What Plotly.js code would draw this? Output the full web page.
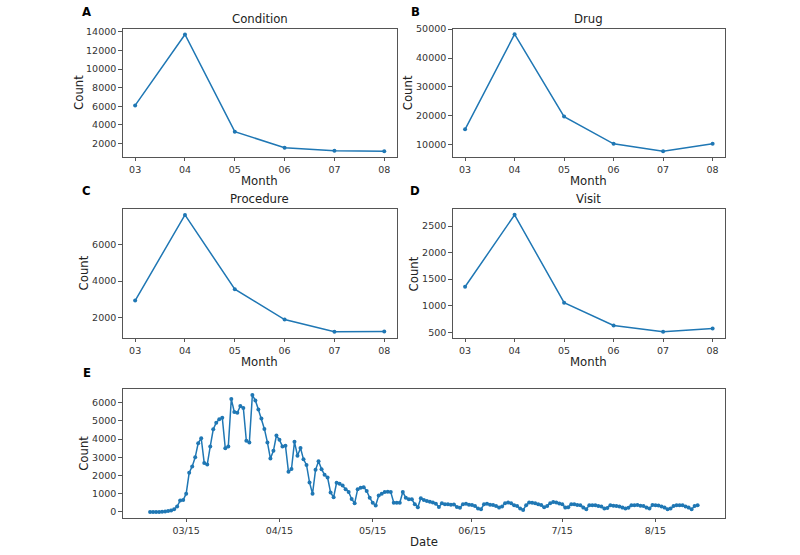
<!DOCTYPE html>
<html>
<head>
<meta charset="utf-8">
<script src="https://cdn.plot.ly/plotly-3.0.1.min.js"></script>
<style>html,body{margin:0;padding:0;background:#fff;}#chart{width:800px;height:555px;}</style>
</head>
<body>
<div id="chart"></div>
<script>
// ---- data ----
const months = ['03', '04', '05', '06', '07', '08'];
const conditionCounts = [6100, 13700, 3280, 1570, 1250, 1190];
const drugCounts = [15300, 48250, 19700, 10250, 7700, 10250];
const procedureCounts = [2940, 7610, 3560, 1910, 1240, 1260];
const visitCounts = [1356, 2712, 1056, 625, 506, 569];

const dailyCounts = [
  0, 0, 0, 0, 10, 20, 45, 70, 140, 300, 620, 650, 1000,
  2150, 2500, 3000, 3780, 4050, 2690, 2600, 3600, 4540, 4900, 5090, 5180, 3500, 3600,
  6200, 5490, 5450, 5820, 5710, 3910, 3820, 6420, 6130, 5630, 5130, 4560, 3820, 2930, 3360, 4200,
  3960, 3600, 3640, 2200, 2360, 3850, 3090, 3510, 2890, 2580, 1620, 1000, 2310, 2780, 2350, 2040,
  1890, 1070, 800, 1600, 1550, 1450, 1250, 1090, 710, 470, 1250, 1330, 1360, 1150, 780, 500, 350,
  900, 1000, 1090, 1110, 1090, 500, 500, 500, 1090, 780, 690, 690, 420, 250,
  750, 650, 600, 560, 510, 450, 270, 470, 420, 420, 390, 400, 270, 230,
  420, 450, 390, 380, 330, 180, 150, 420, 450, 390, 380, 330, 240, 300,
  470, 510, 470, 370, 330, 180, 110, 360, 510, 500, 470, 420, 380, 260,
  330, 470, 540, 510, 460, 420, 240, 250, 420, 420, 380, 370, 240, 150,
  360, 370, 360, 330, 300, 180, 220, 360, 340, 330, 290, 240, 190, 230,
  360, 370, 380, 340, 330, 240, 180, 380, 360, 350, 300, 240, 150, 180,
  330, 360, 360, 360, 290, 240, 150, 320, 370
];
const dayIndex = dailyCounts.map((_, i) => i);
const dateTickIndex = [12, 43, 74, 107, 137, 168];
const dateTickLabels = ['03/15', '04/15', '05/15', '06/15', '7/15', '8/15'];

// ---- styling ----
const FONT = 'DejaVu Sans, Liberation Sans, sans-serif';
const BLUE = '#1f77b4';
const SPINE = '#555555';

function lineTrace(x, y, xa, ya) {
  return {
    x: x, y: y, xaxis: xa, yaxis: ya, type: 'scatter', mode: 'lines+markers',
    line: {color: BLUE, width: 1.5},
    marker: {color: BLUE, size: 4},
    hoverinfo: 'x+y', showlegend: false
  };
}

function axisBase(extra) {
  return Object.assign({
    showline: true, mirror: true, linecolor: SPINE, linewidth: 1,
    ticks: 'outside', ticklen: 3.5, tickwidth: 1, tickcolor: SPINE,
    showgrid: false, zeroline: false, tickformat: 'd', separatethousands: false,
    tickfont: {family: FONT, size: 9.5, color: '#333'}
  }, extra);
}

const px = v => v / 800;
const py = v => 1 - v / 555;

const xA = [px(122.7), px(396.7)];
const xB = [px(452.7), px(725)];
const yTop = [py(156.7), py(29)];
const yMid = [py(337.7), py(209)];
const yBot = [py(517.7), py(389.3)];

const catRange = [-0.25, 5.25];

const data = [
  lineTrace(months, conditionCounts, 'x', 'y'),
  lineTrace(months, drugCounts, 'x2', 'y2'),
  lineTrace(months, procedureCounts, 'x3', 'y3'),
  lineTrace(months, visitCounts, 'x4', 'y4'),
  lineTrace(dayIndex, dailyCounts, 'x5', 'y5')
];

const layout = {
  width: 800, height: 555,
  margin: {l: 0, r: 0, t: 0, b: 0},
  paper_bgcolor: '#fff', plot_bgcolor: '#fff',
  font: {family: FONT, color: '#222'},
  showlegend: false,
  xaxis: axisBase({domain: xA, anchor: 'y', type: 'category', range: catRange, tickformat: ''}),
  yaxis: axisBase({domain: yTop, anchor: 'x', range: [600, 14290], tickvals: [2000, 4000, 6000, 8000, 10000, 12000, 14000]}),
  xaxis2: axisBase({domain: xB, anchor: 'y2', type: 'category', range: catRange, tickformat: ''}),
  yaxis2: axisBase({domain: yTop, anchor: 'x2', range: [5800, 50050], tickvals: [10000, 20000, 30000, 40000, 50000]}),
  xaxis3: axisBase({domain: xA, anchor: 'y3', type: 'category', range: catRange, tickformat: ''}),
  yaxis3: axisBase({domain: yMid, anchor: 'x3', range: [920, 7930], tickvals: [2000, 4000, 6000]}),
  xaxis4: axisBase({domain: xB, anchor: 'y4', type: 'category', range: catRange, tickformat: ''}),
  yaxis4: axisBase({domain: yMid, anchor: 'x4', range: [396, 2822], tickvals: [500, 1000, 1500, 2000, 2500]}),
  xaxis5: axisBase({domain: [xA[0], xB[1]], anchor: 'y5', range: [-9.1, 191.1], tickvals: dateTickIndex, ticktext: dateTickLabels}),
  yaxis5: axisBase({domain: yBot, anchor: 'x5', range: [-320, 6740], tickvals: [0, 1000, 2000, 3000, 4000, 5000, 6000]}),
  annotations: []
};

function ann(text, x, y, opts) {
  layout.annotations.push(Object.assign({
    text: text, x: x, y: y, xref: 'paper', yref: 'paper',
    xanchor: 'center', yanchor: 'middle', showarrow: false,
    font: {family: FONT, size: 11.7, color: '#222'}
  }, opts || {}));
}

// panel titles
ann('Condition', px(259.7), py(19));
ann('Drug', px(588.9), py(19));
ann('Procedure', px(259.7), py(199.3));
ann('Visit', px(588.9), py(199.3));
// axis titles
ann('Count', px(79), py(92.9), {textangle: -90});
ann('Count', px(408.3), py(92.9), {textangle: -90});
ann('Count', px(84), py(273.4), {textangle: -90});
ann('Count', px(414), py(273.4), {textangle: -90});
ann('Count', px(83.3), py(453.5), {textangle: -90});
ann('Month', px(259.7), py(181));
ann('Month', px(588.9), py(181));
ann('Month', px(259.7), py(361.7));
ann('Month', px(588.9), py(361.7));
ann('Date', px(423.9), py(541.7));
// panel letters
const boldFont = {family: FONT, size: 11.7, color: '#000', weight: 'bold'};
ann('<b>A</b>', px(86), py(11.7), {font: boldFont});
ann('<b>B</b>', px(415), py(11.7), {font: boldFont});
ann('<b>C</b>', px(86), py(190.5), {font: boldFont});
ann('<b>D</b>', px(415), py(190.5), {font: boldFont});
ann('<b>E</b>', px(86.7), py(372.7), {font: boldFont});

Plotly.newPlot('chart', data, layout, {displayModeBar: false, staticPlot: true});
</script>
</body>
</html>
